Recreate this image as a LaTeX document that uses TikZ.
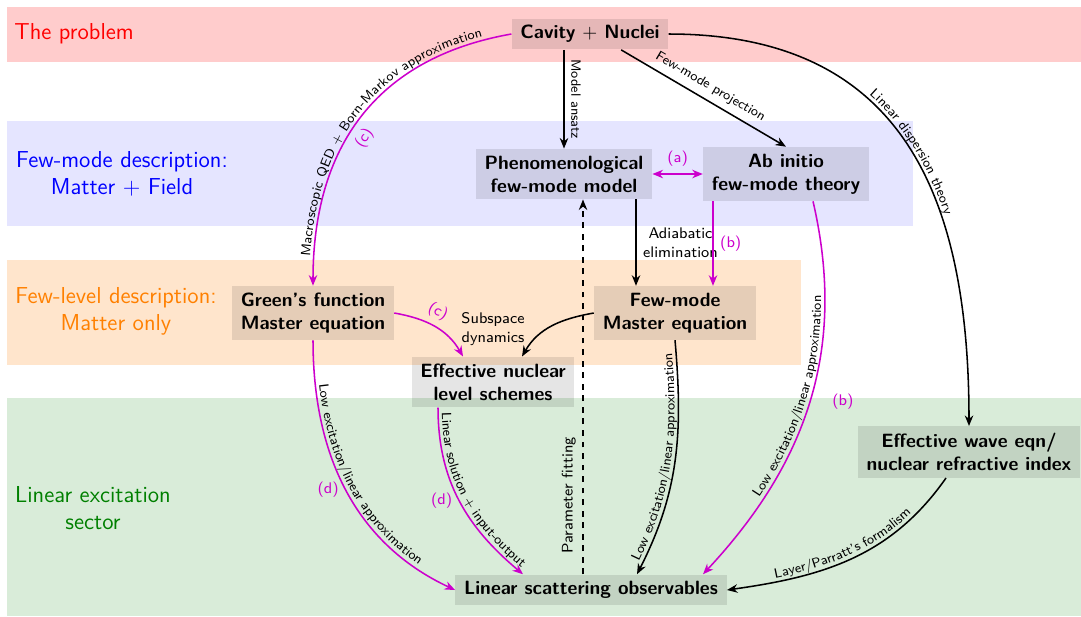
\documentclass[tikz,border=0pt]{standalone}
\usetikzlibrary{arrows.meta,decorations.text,calc}
\renewcommand{\familydefault}{\sfdefault}
\definecolor{mag}{RGB}{204,0,204}
\definecolor{dgreen}{RGB}{0,128,0}
\begin{document}
\begin{tikzpicture}[x=0.52pt,y=0.52pt,
  >={Stealth[length=5.5pt,width=4.4pt]},
  box/.style={fill=black, fill opacity=0.1, text opacity=1, font=\sffamily\bfseries, align=center, inner xsep=4.5pt, inner ysep=3.5pt},
  bandlabel/.style={font=\large\sffamily, align=center, inner sep=0pt},
  lbl/.style={font=\scriptsize\sffamily},
  small/.style={font=\footnotesize\sffamily, align=center},
  tag/.style={font=\footnotesize\sffamily, text=mag},
  edge/.style={thick},
  medge/.style={thick, draw=mag},
  along/.style={postaction={-,decorate}, decoration={text along path, text align=center, raise=2pt, text={|\scriptsize\sffamily\color{black}|#1}}}
]
\useasboundingbox (0,0) rectangle (1081,-616);
% bands
\fill[red!20] (7,-7) rectangle (1081,-62);
\fill[blue!10] (7,-121) rectangle (913,-226);
\fill[orange!20] (7,-260) rectangle (801,-365);
\fill[dgreen!15] (7,-398) rectangle (1081,-616);
% band labels
\node[bandlabel, text=red, anchor=west] (lprob) at (14,-34) {The problem};
\node[bandlabel, text=blue] (lfm) at (122,-174) {Few-mode description:\\Matter $+$ Field};
\node[bandlabel, text=orange] (lfl) at (116,-311) {Few-level description:\\Matter only};
\node[bandlabel, text=dgreen] (llin) at (93,-508) {Linear excitation\\sector};
% nodes
\node[box] (cav) at (590,-34) {Cavity $+$ Nuclei};
\node[box] (phen) at (564,-174) {Phenomenological\\few-mode model};
\node[box] (abin) at (786,-174) {Ab initio\\few-mode theory};
\node[box] (green) at (313,-313) {Green's function\\Master equation};
\node[box] (fmme) at (675,-313) {Few-mode\\Master equation};
\node[box] (effnuc) at (493,-382) {Effective nuclear\\level schemes};
\node[box] (wave) at (969,-452) {Effective wave eqn/\\nuclear refractive index};
\node[box] (ls) at (591,-590) {Linear scattering observables};
% edges
\draw[edge,->] (cav.south -| phen.north) -- node[lbl, midway, rotate=-90, anchor=south] (tma) {Model ansatz} (phen.north);
\draw[edge,->] (cav.-27) -- node[lbl, midway, sloped, above] (tfp) {Few-mode projection} (abin.north);
\draw[edge,->, along={Linear dispersion theory}] (cav.east) to[out=0,in=90,looseness=1.2] (wave.north);
\draw[medge,<-, along={Macroscopic QED + Born-Markov approximation}] (green.north) to[out=90,in=190,looseness=1.1] node[tag, pos=0.45, sloped, below] (tc1) {(c)} (cav.west);
\draw[medge,<->] (phen.east) -- node[tag, above] (ta) {(a)} (abin.west);
\draw[edge,->] ($(phen.south)+(72,0)$) coordinate (p6) -- node[small, midway, right] (tad) {Adiabatic\\elimination} (p6 |- fmme.north);
\draw[medge,->] ($(abin.south)+(-73,0)$) coordinate (p7) -- node[tag, midway, right] (tb1) {(b)} (p7 |- fmme.north);
\draw[medge,->] (green.east) to[out=-10,in=120] node[tag, pos=0.45, sloped, above] (tc2) {(c)} ($(effnuc.north)+(-30,0)$);
\draw[edge,->] (fmme.west) to[out=190,in=60] ($(effnuc.north)+(29,0)$);
\node[small] (tsub) at (493,-329) {Subspace\\dynamics};
\draw[medge,->, along={Low excitation/linear approximation}] (green.south) to[out=-90,in=155] node[tag, pos=0.5, left] (td1) {(d)} (ls.west);
\draw[medge,->, along={Linear solution + input-output}] ($(effnuc.south)+(-55,0)$) to[out=-90,in=140] node[tag, pos=0.5, left] (td2) {(d)} ($(ls.north)+(-68,0)$);
\draw[edge,->,dashed] ($(ls.north)+(-8,0)$) coordinate (d0) -- node[font=\footnotesize\sffamily, pos=0.21, rotate=90, anchor=south] (tpf) {Parameter fitting} (d0 |- phen.south);
\draw[edge,<-, along={Low excitation/linear approximation}] ($(ls.north)+(46,0)$) to[out=63,in=-85] (fmme.south);
\draw[medge,<-, along={Low excitation/linear approximation}] ($(ls.north)+(112,0)$) to[out=47,in=-77] node[tag, pos=0.5, right=8pt] (tb2) {(b)} ($(abin.south)+(27,0)$);
\draw[edge,<-, along={Layer/Parratt's formalism}] (ls.east) to[out=8,in=-125] ($(wave.south)+(-23,0)$);
\end{tikzpicture}
\end{document}
